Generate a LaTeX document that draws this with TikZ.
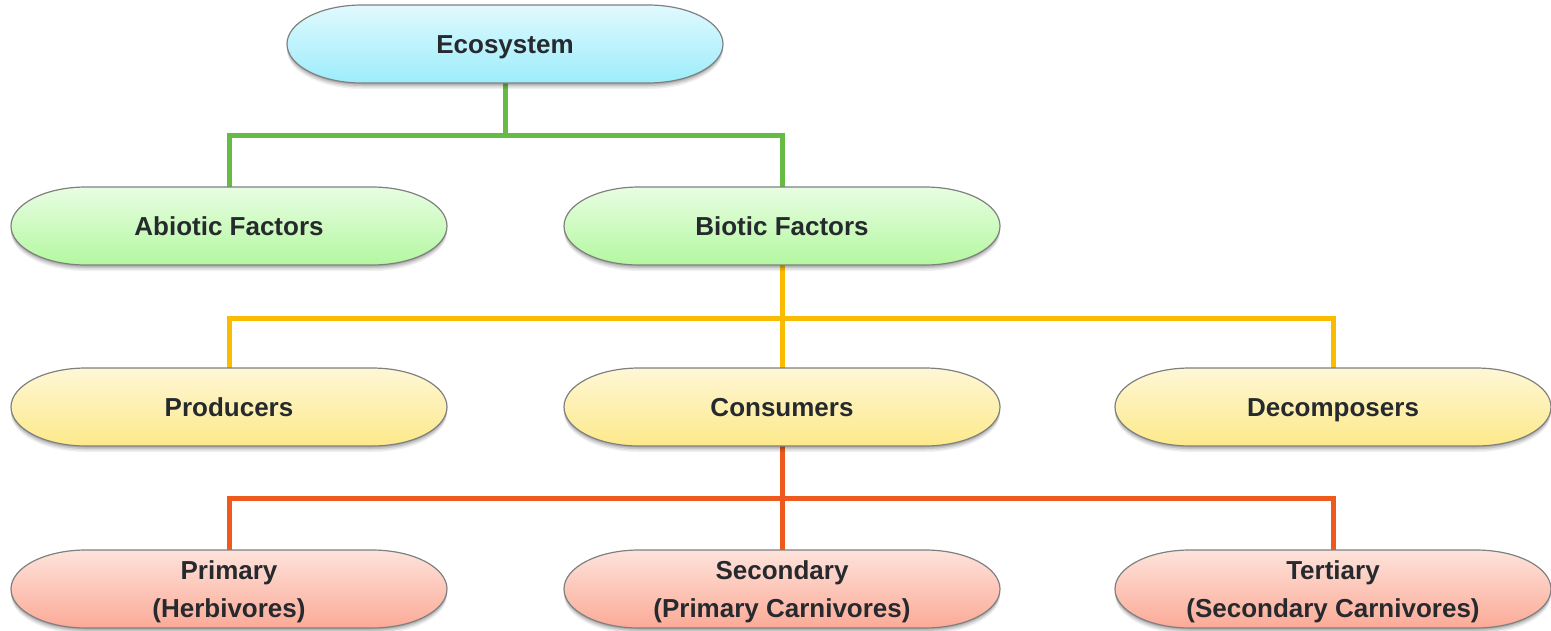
\documentclass[tikz,border=0pt]{standalone}
\usepackage{fontspec}
\setmainfont{Liberation Sans}
\usetikzlibrary{shadows}
\pgfdeclarelayer{background}
\pgfsetlayers{background,main}
\definecolor{txtc}{HTML}{262A2E}
\definecolor{cyanT}{HTML}{E0F9FE}
\definecolor{cyanB}{HTML}{9CEDFB}
\definecolor{greenT}{HTML}{E8FDE2}
\definecolor{greenB}{HTML}{B3F8A0}
\definecolor{yelT}{HTML}{FEF7D6}
\definecolor{yelB}{HTML}{FDE98A}
\definecolor{redT}{HTML}{FDE3DB}
\definecolor{redB}{HTML}{FCAA97}
\definecolor{lgreen}{HTML}{66BB44}
\definecolor{lyellow}{HTML}{F9BC00}
\definecolor{lorange}{HTML}{EE5A1E}
\tikzset{
  pillbox/.style={draw=black!50, line width=1.2pt,
    general shadow={shadow xshift=0pt, shadow yshift=-6pt, opacity=0.06, fill=black},
    general shadow={shadow xshift=0pt, shadow yshift=-4.5pt, opacity=0.08, fill=black},
    general shadow={shadow xshift=0pt, shadow yshift=-3pt, opacity=0.10, fill=black},
    general shadow={shadow xshift=0pt, shadow yshift=-1.5pt, opacity=0.12, fill=black}},
  pilltext/.style={minimum width=436pt, minimum height=78pt, inner sep=0pt,
    align=center, text=txtc, font=\fontsize{26}{38}\selectfont\bfseries},
  labeltext/.style={align=center, text=txtc, font=\fontsize{26}{38}\selectfont\bfseries, inner sep=0pt},
  conn/.style={line width=5pt}
}
\newcommand\pill[6]{%
  \path[pillbox, top color=#4, bottom color=#5]
    (#2-143,#3+39) -- (#2+143,#3+39)
    arc[start angle=90,end angle=-90,x radius=75,y radius=39]
    -- (#2-143,#3-39)
    arc[start angle=270,end angle=90,x radius=75,y radius=39] -- cycle;
  \node[pilltext] (#1) at (#2,#3) {};
  \node[labeltext] (#1-t) at ([yshift=-3pt]#1.center) {#6};}
\newcommand\one[1]{\vphantom{(}#1}
\begin{document}
\begin{tikzpicture}[x=1pt,y=1pt]
\useasboundingbox (0,0) rectangle (1551,-630);
\pill{eco}{505}{-44}{cyanT}{cyanB}{\one{Ecosystem}}
\pill{abio}{229}{-226}{greenT}{greenB}{\one{Abiotic Factors}}
\pill{bio}{782}{-226}{greenT}{greenB}{\one{Biotic Factors}}
\pill{prod}{229}{-407}{yelT}{yelB}{\one{Producers}}
\pill{cons}{782}{-407}{yelT}{yelB}{\one{Consumers}}
\pill{dec}{1333}{-407}{yelT}{yelB}{\one{Decomposers}}
\pill{prim}{229}{-589}{redT}{redB}{Primary\\(Herbivores)}
\pill{sec}{782}{-589}{redT}{redB}{Secondary\\(Primary Carnivores)}
\pill{ter}{1333}{-589}{redT}{redB}{Tertiary\\(Secondary Carnivores)}
\begin{pgfonlayer}{background}
\draw[conn, lgreen] (eco.south) -- ++(0,-52) coordinate (g) -| (abio.north);
\draw[conn, lgreen] (g) -| (bio.north);
\draw[conn, lyellow] (bio.south) -- ++(0,-53) coordinate (yy) -| (prod.north);
\draw[conn, lyellow] (yy) -| (dec.north);
\draw[conn, lyellow] (yy) -- (cons.north);
\draw[conn, lorange] (cons.south) -- ++(0,-52) coordinate (oo) -| (prim.north);
\draw[conn, lorange] (oo) -| (ter.north);
\draw[conn, lorange] (oo) -- (sec.north);
\end{pgfonlayer}
\end{tikzpicture}
\end{document}
